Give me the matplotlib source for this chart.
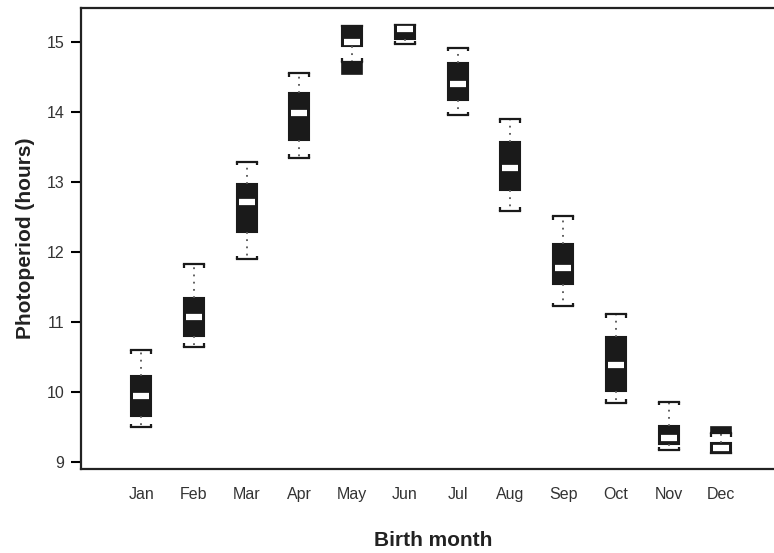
import matplotlib
matplotlib.use("Agg")
import matplotlib.pyplot as plt

plt.rcParams["font.family"] = ["Liberation Sans", "DejaVu Sans"]

# Values (hours)
months = ["Jan", "Feb", "Mar", "Apr", "May", "Jun",
          "Jul", "Aug", "Sep", "Oct", "Nov", "Dec"]
whisker_low = [9.50, 10.65, 11.90, 13.35, 14.72, 14.97,
               13.96, 12.59, 11.23, 9.85, 9.17, 9.13]
q1 = [9.66, 10.80, 12.29, 13.60, 14.95, 15.04,
      14.17, 12.89, 11.54, 10.01, 9.26, 9.13]
median = [9.95, 11.08, 12.72, 13.99, 15.01, 15.19,
          14.41, 13.21, 11.78, 10.39, 9.35, 9.20]
q3 = [10.23, 11.35, 12.97, 14.28, 15.23, 15.25,
      14.70, 13.58, 12.11, 10.78, 9.52, 9.27]
whisker_high = [10.60, 11.83, 13.29, 14.56, 15.23, 15.25,
                14.92, 13.90, 12.51, 11.11, 9.86, 9.41]
# dense clusters of outlying days, drawn as solid blocks
outlier_low = [None, None, None, None, 14.54, None,
               None, None, None, None, None, 9.42]
outlier_high = [None, None, None, None, 14.72, None,
                None, None, None, None, None, 9.50]

positions = list(range(1, len(months) + 1))
box_w = 0.38
tick_len = 0.05

fig = plt.figure(figsize=(7.74, 5.53), dpi=100)
ax = fig.add_axes([0.1047, 0.1519, 0.8953, 0.8336])

stats = []
for i, m in enumerate(months):
    stats.append({
        "label": m, "whislo": whisker_low[i], "q1": q1[i], "med": median[i],
        "q3": q3[i], "whishi": whisker_high[i], "fliers": [],
    })

ax.bxp(
    stats, positions=positions, widths=box_w, patch_artist=True,
    showfliers=False,
    boxprops={"facecolor": "#1a1a1a", "edgecolor": "#1a1a1a", "linewidth": 1.5},
    whiskerprops={"color": "#555555", "linewidth": 1.3, "linestyle": (0, (1, 3))},
    capprops={"color": "#1a1a1a", "linewidth": 1.6},
    capwidths=box_w,
    medianprops={"linewidth": 0},
)

# white median bars, a little narrower than the box
ax.hlines(median, [p - box_w * 0.4 for p in positions],
          [p + box_w * 0.4 for p in positions],
          colors="white", linewidth=4.5, zorder=5)

# bracket ends on the caps, turned towards the box
for i, p in enumerate(positions):
    left, right = p - box_w / 2, p + box_w / 2
    if whisker_low[i] < q1[i]:
        y = whisker_low[i]
        ax.vlines([left, right], y, y + tick_len, colors="#1a1a1a", linewidth=1.6)
    if whisker_high[i] > q3[i]:
        y = whisker_high[i]
        ax.vlines([left, right], y - tick_len, y, colors="#1a1a1a", linewidth=1.6)

for i, p in enumerate(positions):
    if outlier_low[i] is not None:
        ax.bar(p, outlier_high[i] - outlier_low[i], bottom=outlier_low[i],
               width=box_w, color="#1a1a1a", edgecolor="#1a1a1a", linewidth=1.2)

ax.set_xlim(-0.14, 13.0)
ax.set_ylim(8.9, 15.49)
ax.set_xticks(positions)
ax.set_xticklabels(months)
ax.set_yticks([9, 10, 11, 12, 13, 14, 15])

ax.tick_params(axis="x", length=0, pad=13, labelsize=11.5, labelcolor="#333333")
ax.tick_params(axis="y", length=7, width=1.5, pad=5, labelsize=11.5,
               labelcolor="#333333", direction="out")

for side in ["left", "top", "bottom"]:
    ax.spines[side].set_linewidth(1.6)
    ax.spines[side].set_color("#222222")
ax.spines["right"].set_visible(False)

ax.set_xlabel("Birth month", fontsize=15, fontweight="bold", labelpad=20,
              color="#222222")
ax.xaxis.set_label_coords(0.508, -0.135)
ax.set_ylabel("Photoperiod (hours)", fontsize=15, fontweight="bold", labelpad=8,
              color="#222222")

fig.savefig("out.png", dpi=100)
